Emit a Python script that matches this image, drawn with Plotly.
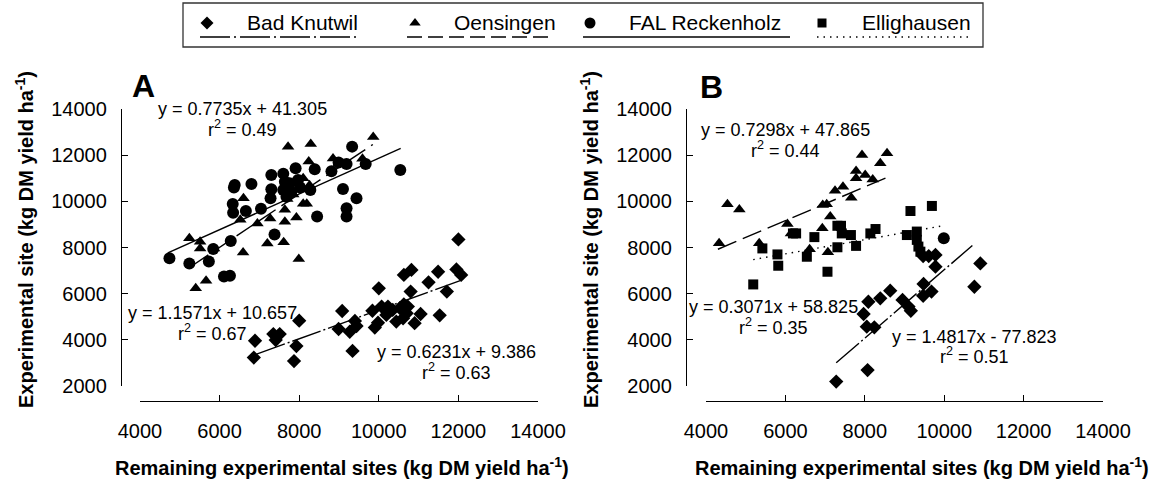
import plotly.graph_objects as go

W, H = 1163, 488
FONT = "Liberation Sans, Arial, sans-serif"

# ---------------- data (kg DM yield ha-1) ----------------
# Panel A
a_bk_x = [6890, 6860, 7350, 7510, 7410, 7930, 7870, 8000, 8990, 9080, 9270, 9340, 9400, 9440, 9840, 9900,
          9980, 10000, 10070, 10230, 10190, 10440, 10530, 10630, 10610, 10730, 10630, 10820, 10800, 10900,
          11050, 11250, 11490, 11530, 11710, 11950, 12070, 12000, 10350, 10700]
a_bk_y = [3960, 3230, 4250, 4250, 3990, 3730, 3080, 4830, 4470, 5250, 4350, 3520, 4820, 4600, 5260, 4530,
          4740, 6230, 5440, 5440, 5080, 4790, 5370, 5540, 4930, 5440, 6810, 7030, 6090, 4720,
          5120, 6490, 6950, 5060, 6090, 7050, 6810, 8350, 5300, 5150]

a_oe_x = [5240, 5510, 5510, 5860, 5400, 5660, 6590, 6520, 6600, 6950, 7200, 7270, 7610, 7640, 7640, 7930,
          7990, 7720, 8290, 8240, 8260, 8190, 8850, 9000, 9590, 9860, 8100, 8100, 7850, 8000, 7700]
a_oe_y = [8400, 8250, 7960, 7960, 6230, 6560, 7780, 9200, 10130, 9040, 8170, 9260, 8230, 9120, 9640, 9300,
          7500, 12360, 12480, 11730, 10700, 9900, 11860, 11650, 11840, 12790, 11000, 9900, 10300, 10800, 10100]

a_fal_x = [4740, 5240, 5730, 5840, 6280, 6110, 6260, 6330, 6340, 6380, 6360, 6800, 6660, 7040, 7300, 7300,
           7280, 7380, 7600, 7640, 7760, 7600, 7680, 7910, 7970, 8020, 7800, 8390, 8450, 8280, 8810, 8990,
           9100, 9190, 9190, 9190, 9330, 9440, 9670, 10540]
a_fal_y = [7530, 7310, 7390, 7940, 8280, 6740, 6780, 9880, 9510, 10710, 10600, 10750, 9580, 9680, 11140, 10520,
           10130, 8560, 11200, 10850, 10780, 10490, 10200, 11430, 10920, 10600, 10400, 11390, 9340, 10490, 11300, 11680,
           10530, 11620, 9700, 9340, 12370, 10130, 11620, 11360]

# Panel B
b_bk_x = [7280, 8070, 8090, 7970, 8050, 8240, 8390, 8640, 8950, 9100, 9160, 9470, 9480, 9680, 9780, 9610,
          9780, 9470, 10910, 10760]
b_bk_y = [2190, 2690, 5650, 5120, 4570, 4540, 5800, 6130, 5730, 5440, 5260, 5910, 6420, 6090, 7170, 7630,
          7680, 7630, 7310, 6300]

b_oe_x = [4330, 4540, 4840, 5340, 6050, 6140, 6610, 6930, 6940, 7040, 7070, 7130, 7250, 7450, 7660, 7780,
          7930, 8010, 7780, 8200, 8390, 8560]
b_oe_y = [8180, 9870, 9650, 8180, 9020, 8610, 7920, 8830, 9840, 9870, 7790, 9340, 10460, 10630, 10160, 11310,
          12010, 11140, 11000, 10950, 11650, 12080]

b_el_x = [5190, 5420, 5800, 5820, 6190, 6270, 6540, 6730, 7060, 7310, 7310, 7400, 7420, 7650, 7780, 8140,
          8270, 9150, 9690, 9060, 9310, 9310, 9350, 9400]
b_el_y = [6400, 7960, 7700, 7210, 8610, 8610, 7600, 8450, 6950, 8010, 8940, 8940, 8610, 8540, 8070, 8610,
          8800, 9580, 9800, 8540, 8690, 8330, 8040, 7820]

b_fal_x = [9990]
b_fal_y = [8400]

x_ticks = [4000, 6000, 8000, 10000, 12000, 14000]
y_ticks = [2000, 4000, 6000, 8000, 10000, 12000, 14000]

# regressions: slope, intercept (kg), x start, x end
a_fit_fal = (0.7735, 4130.5, 4700, 10550)
a_fit_oe = (1.1571, 1065.7, 5300, 9850)
a_fit_bk = (0.6231, -938.6, 6930, 12080)
b_fit_oe = (0.7298, 4786.5, 4300, 8570)
b_fit_el = (0.3071, 5882.5, 5190, 9900)
b_fit_bk = (1.4817, -7782.3, 7280, 10710)

# ---------------- figure ----------------
fig = go.Figure()

def px_x(p):
    return p / W

def px_y(p):
    return (H - p) / H

MK = dict(
    bk=dict(symbol="diamond", size=11),
    oe=dict(symbol="triangle-up", size=11),
    fal=dict(symbol="circle", size=12),
    el=dict(symbol="square", size=10),
)

def pts(x, y, kind, xa, ya):
    fig.add_trace(go.Scatter(
        x=x, y=y, mode="markers", xaxis=xa, yaxis=ya, cliponaxis=False, showlegend=False,
        marker=dict(color="black", line=dict(width=0), **MK[kind])))

def fit(f, dash, xa, ya):
    s, b, x0, x1 = f
    xs = [x0, x1]
    fig.add_trace(go.Scatter(
        x=xs, y=[s * v + b for v in xs], mode="lines", xaxis=xa, yaxis=ya, showlegend=False,
        cliponaxis=False, line=dict(color="black", width=1.4, dash=dash)))

DASH_BK = "30px,3px,2px,3px"
DASH_OE = "20px,7px"
DASH_EL = "1.5px,5px"

pts(a_fal_x, a_fal_y, "fal", "x", "y")
pts(a_oe_x, a_oe_y, "oe", "x", "y")
pts(a_bk_x, a_bk_y, "bk", "x", "y")
fit(a_fit_fal, "solid", "x", "y")
fit(a_fit_oe, DASH_OE, "x", "y")
fit(a_fit_bk, DASH_BK, "x", "y")

pts(b_oe_x, b_oe_y, "oe", "x2", "y2")
pts(b_el_x, b_el_y, "el", "x2", "y2")
pts(b_fal_x, b_fal_y, "fal", "x2", "y2")
pts(b_bk_x, b_bk_y, "bk", "x2", "y2")
fit(b_fit_oe, DASH_OE, "x2", "y2")
fit(b_fit_el, DASH_EL, "x2", "y2")
fit(b_fit_bk, DASH_BK, "x2", "y2")

# legend (pixel overlay axis)
leg_names = ["Bad Knutwil", "Oensingen", "FAL Reckenholz", "Ellighausen"]
leg_kinds = ["bk", "oe", "fal", "el"]
leg_mx = [207, 415, 590, 822]
leg_tx = [245, 452, 627, 860]
leg_l0 = [200, 407, 583, 817]
leg_l1 = [360, 550, 790, 972]
leg_dash = ["30px,4px,2px,4px", "15px,6px", "solid", DASH_EL]
for k, mx in zip(leg_kinds, leg_mx):
    mk = dict(MK[k])
    mk["size"] = mk["size"] - 1
    fig.add_trace(go.Scatter(x=[mx], y=[23], mode="markers", xaxis="x3", yaxis="y3", showlegend=False,
                             cliponaxis=False, marker=dict(color="black", line=dict(width=0), **mk)))

shapes = [dict(type="rect", xref="x3", yref="y3", x0=183, y0=3, x1=983, y1=47,
               line=dict(color="#333333", width=1.3))]
for a, b_, d in zip(leg_l0, leg_l1, leg_dash):
    shapes.append(dict(type="line", xref="x3", yref="y3", x0=a, x1=b_, y0=37, y1=37,
                       line=dict(color="black", width=1.4, dash=d)))

ann = []
for name, tx in zip(leg_names, leg_tx):
    ann.append(dict(xref="x3", yref="y3", x=tx, y=22, text=name, showarrow=False, xanchor="left",
                    yanchor="middle", font=dict(size=21, family=FONT, color="black")))

eqs = [
    ("y = 0.7735x + 41.305", "0.49", 242, 109, 130),
    ("y = 1.1571x + 10.657", "0.67", 212, 313, 334),
    ("y = 0.6231x + 9.386", "0.63", 456, 352, 373),
    ("y = 0.7298x + 47.865", "0.44", 785, 130, 151),
    ("y = 0.3071x + 58.825", "0.35", 773, 307, 328),
    ("y = 1.4817x - 77.823", "0.51", 974, 337, 357),
]
for eq, r2, cx, y1, y2 in eqs:
    ann.append(dict(xref="x3", yref="y3", x=cx, y=y1, text=eq, showarrow=False,
                    font=dict(size=18, family=FONT, color="black")))
    ann.append(dict(xref="x3", yref="y3", x=cx, y=y2 - 2, text="r<sup>2</sup> = " + r2, showarrow=False,
                    font=dict(size=18, family=FONT, color="black")))

for lab, cx, cy in [("A", 143, 86), ("B", 711, 87)]:
    ann.append(dict(xref="x3", yref="y3", x=cx, y=cy, text="<b>" + lab + "</b>", showarrow=False,
                    font=dict(size=32, family=FONT, color="black")))

ytitle = "<b>Experimental site (kg DM yield ha<sup>-1</sup>)</b>"
xtitle = "<b>Remaining experimental sites (kg DM yield ha<sup>-1</sup>)</b>"
for cx in [24, 589]:
    ann.append(dict(xref="x3", yref="y3", x=cx, y=240, text=ytitle, textangle=-90, showarrow=False,
                    font=dict(size=20, family=FONT, color="black")))
for cx in [342, 922]:
    ann.append(dict(xref="x3", yref="y3", x=cx, y=466, text=xtitle, showarrow=False,
                    font=dict(size=20, family=FONT, color="black")))

ax_common = dict(showgrid=False, zeroline=False, showline=True, linecolor="black", linewidth=1.4,
                 ticks="inside", ticklen=6, tickwidth=1.4, tickcolor="black", automargin=False,
                 tickfont=dict(size=20, family=FONT, color="black"), anchor="free")
xt = dict(tickvals=x_ticks, ticktext=[str(v) for v in x_ticks])
yt = dict(tickvals=y_ticks, ticktext=[str(v) for v in y_ticks])

fig.update_layout(
    template="none",
    width=W, height=H, margin=dict(l=0, r=0, t=0, b=0, pad=0),
    paper_bgcolor="white", plot_bgcolor="rgba(0,0,0,0)", showlegend=False,
    xaxis=dict(domain=[px_x(140), px_x(538)], range=[4000, 14000],
               position=px_y(401), ticklabelstandoff=12, **xt, **ax_common),
    yaxis=dict(domain=[px_y(386), px_y(109)], range=[2000, 14000],
               position=px_x(121), ticklabelstandoff=10, **yt, **ax_common),
    xaxis2=dict(domain=[px_x(706), px_x(1103)], range=[4000, 14000],
                position=px_y(401), ticklabelstandoff=12, **xt, **ax_common),
    yaxis2=dict(domain=[px_y(386), px_y(109)], range=[2000, 14000],
                position=px_x(686), ticklabelstandoff=10, **yt, **ax_common),
    xaxis3=dict(domain=[0, 1], range=[0, W], visible=False, anchor="y3", fixedrange=True, automargin=False),
    yaxis3=dict(domain=[0, 1], range=[H, 0], visible=False, anchor="x3", fixedrange=True, automargin=False),
    shapes=shapes, annotations=ann,
)

fig.write_html("out.html", config={"displayModeBar": False},
               post_script="document.body.style.margin='0';document.body.style.overflow='hidden';")
